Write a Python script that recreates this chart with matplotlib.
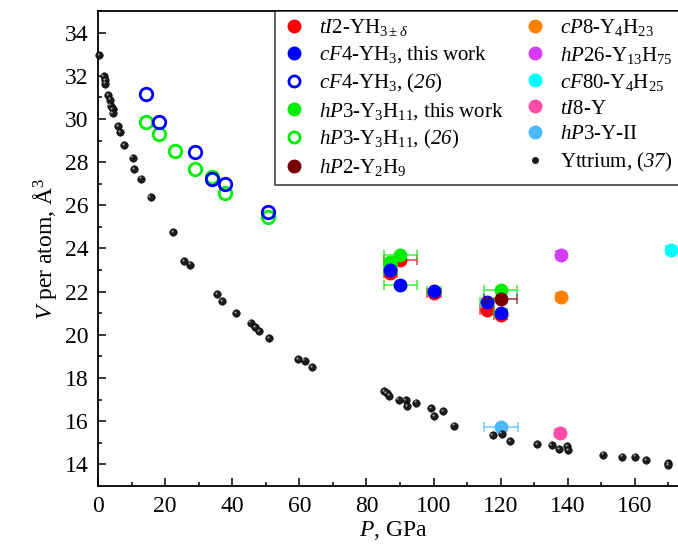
import matplotlib
matplotlib.use("Agg")
import matplotlib.pyplot as plt
from matplotlib.colors import to_rgba
from matplotlib.lines import Line2D
from matplotlib.ticker import MultipleLocator
from matplotlib.transforms import offset_copy

plt.rcParams["font.family"] = ["Liberation Serif", "DejaVu Serif"]
plt.rcParams["mathtext.fontset"] = "custom"
plt.rcParams["mathtext.rm"] = "Liberation Serif"
plt.rcParams["mathtext.it"] = "Liberation Serif:italic"
plt.rcParams["mathtext.bf"] = "Liberation Serif:bold"
# sf se usa para los numeros de referencia en cursiva
plt.rcParams["mathtext.sf"] = "Liberation Serif:italic"

# --- datos ---
p_ti2 = [87.1, 90.1, 100.1, 116.0, 120.0]
v_ti2 = [22.87, 23.46, 21.95, 21.14, 20.93]
e_ti2 = [2, 5, 2, 2, 2]

p_cf4 = [87.1, 90.1, 100.1, 116.0, 120.0]
v_cf4 = [23.00, 22.32, 22.02, 21.51, 21.02]
e_cf4 = [2, 5, 2, 2, 2]

p_cf4_lit = [14.2, 18.1, 29.0, 34.0, 37.9, 50.8]
v_cf4_lit = [31.16, 29.88, 28.46, 27.24, 26.98, 25.70]

p_hp3 = [87.1, 90.1, 120.0]
v_hp3 = [23.37, 23.69, 22.07]
e_hp3 = [2, 5, 5]

p_hp3_lit = [14.2, 18.1, 23.1, 29.0, 34.0, 37.9, 50.8]
v_hp3_lit = [29.88, 29.31, 28.50, 27.70, 27.32, 26.55, 25.47]

p_hp2, v_hp2, e_hp2 = [120.0], [21.64], [5]
p_cp8, v_cp8, e_cp8 = [138.0], [21.76], [1.5]
p_hp26, v_hp26, e_hp26 = [138.0], [23.72], [1.5]
p_cf80, v_cf80, e_cf80 = [170.9], [23.95], [1.5]
p_ti8, v_ti8, e_ti8 = [137.8], [15.45], [1.5]
p_yii, v_yii, e_yii = [120.1], [15.71], [5]

p_y = [0.3, 1.7, 2.1, 2.1, 3.1, 3.6, 3.8, 4.4, 4.4, 5.9, 6.5, 7.7, 10.3, 10.7,
       12.9, 15.7, 22.3, 25.6, 27.5, 35.6, 36.9, 41.1, 45.5, 46.8, 48.1, 51.1,
       59.7, 61.6, 63.9, 85.2, 86.0, 86.7, 89.6, 91.7, 92.1, 94.9, 99.2, 100.1,
       102.9, 106.1, 117.6, 120.3, 122.8, 130.8, 135.2, 137.4, 139.8, 140.2,
       150.5, 156.3, 160.0, 163.3, 169.9, 169.9]
v_y = [32.95, 32.00, 31.81, 31.64, 31.10, 30.90, 30.62, 30.47, 30.28, 29.66,
       29.40, 28.78, 28.21, 27.67, 27.24, 26.39, 24.77, 23.40, 23.25, 21.90,
       21.56, 21.02, 20.57, 20.37, 20.17, 19.85, 18.86, 18.81, 18.50, 17.38,
       17.29, 17.19, 17.00, 16.96, 16.70, 16.86, 16.61, 16.24, 16.47, 15.80,
       15.34, 15.43, 15.09, 14.95, 14.90, 14.72, 14.85, 14.66, 14.45, 14.36,
       14.36, 14.19, 14.05, 13.95]

RED, BLUE, GREEN, BROWN = "#ff0000", "#0000ff", "#00ee00", "#7a0000"
ORANGE, PURPLE, CYAN, PINK, LBLUE = "#ff8000", "#d63cf5", "#00ffff", "#ff4da6", "#4cb8ff"

fig = plt.figure(figsize=(6.78, 5.52), dpi=100)
ax = fig.add_axes([0.1445, 0.1196, 0.871, 0.8605])

ms = 9


def puntos(p, v, e, color, ecolor=None, z=3):
    ax.errorbar(p, v, xerr=e, fmt="o", ms=ms, color=color, mec=color,
                ecolor=to_rgba(ecolor or color, 0.6), elinewidth=1.4,
                capsize=3.5, capthick=1.4, zorder=z)


puntos(p_ti2, v_ti2, e_ti2, RED, z=3)
puntos(p_hp3, v_hp3, e_hp3, GREEN, z=4)
puntos(p_cf4, v_cf4, e_cf4, BLUE, ecolor=GREEN, z=5)
puntos(p_hp2, v_hp2, e_hp2, BROWN, z=6)
puntos(p_cp8, v_cp8, e_cp8, ORANGE)
puntos(p_hp26, v_hp26, e_hp26, PURPLE)
puntos(p_cf80, v_cf80, e_cf80, CYAN)
puntos(p_ti8, v_ti8, e_ti8, PINK)
puntos(p_yii, v_yii, e_yii, LBLUE)

# circulos abiertos (26)
ax.plot(p_hp3_lit, v_hp3_lit, "o", ms=ms, mfc="none", mec=GREEN, mew=2, zorder=3)
ax.plot(p_cf4_lit, v_cf4_lit, "o", ms=ms, mfc="none", mec=BLUE, mew=2, zorder=4)

# Itrio (37), esferas pequenas con brillo
ax.plot(p_y, v_y, "o", ms=5.4, color="#1c1c1c", mec="#000000", mew=0.4,
        zorder=8, clip_on=False)
brillo = offset_copy(ax.transData, fig=fig, x=-0.9, y=0.9, units="points")
ax.plot(p_y, v_y, "o", ms=1.6, color="#bbbbbb", mew=0, alpha=0.8,
        transform=brillo, zorder=9)

ax.set_xlim(0, 176)
ax.set_ylim(13, 35)
ax.xaxis.set_major_locator(MultipleLocator(20))
ax.xaxis.set_minor_locator(MultipleLocator(10))
ax.yaxis.set_major_locator(MultipleLocator(2))
ax.yaxis.set_minor_locator(MultipleLocator(1))
ax.tick_params(which="both", direction="in", top=False, right=False,
               width=1.1, labelsize=17, pad=7)
ax.tick_params(which="major", length=5.5)
ax.tick_params(which="minor", length=3)
for s in ax.spines.values():
    s.set_linewidth(1.3)

ax.set_xlabel("$P$, GPa", fontsize=17, labelpad=2)
ax.set_ylabel("$V$ per atom, Å$^3$", fontsize=17, labelpad=4)

# Leyenda
def h(color, fill=True, small=False):
    if small:
        return Line2D([], [], ls="none", marker="o", ms=4, color="#1c1c1c")
    return Line2D([], [], ls="none", marker="o", ms=8,
                  mfc=color if fill else "none", mec=color, mew=2)


handles = [h(RED), h(BLUE), h(BLUE, False), h(GREEN), h(GREEN, False), h(BROWN),
           h(ORANGE), h(PURPLE), h(CYAN), h(PINK), h(LBLUE), h(None, small=True)]
labels = [
    r"$tI$2-YH$_{3\pm\delta}$",
    r"$cF$4-YH$_3$, this work",
    r"$cF$4-YH$_3$, ($\mathsf{26}$)",
    r"$hP$3-Y$_3$H$_{11}$, this work",
    r"$hP$3-Y$_3$H$_{11}$, ($\mathsf{26}$)",
    r"$hP$2-Y$_2$H$_9$",
    r"$cP$8-Y$_4$H$_{23}$",
    r"$hP$26-Y$_{13}$H$_{75}$",
    r"$cF$80-Y$_4$H$_{25}$",
    r"$tI$8-Y",
    r"$hP$3-Y-II",
    r"Yttrium, ($\mathsf{37}$)",
]
leg = ax.legend(handles, labels, ncol=2, loc="upper left",
                bbox_to_anchor=(275 / 678, 1 - 11 / 552),
                bbox_transform=fig.transFigure, borderaxespad=0,
                fontsize=15, frameon=True, fancybox=False, handlelength=1.2,
                handletextpad=0.6, columnspacing=0.9, labelspacing=0.3,
                borderpad=0.3)
leg.get_frame().set_edgecolor("black")
leg.get_frame().set_linewidth(1.1)
leg.set_zorder(10)

fig.savefig("out.png", dpi=100)
plt.close()
